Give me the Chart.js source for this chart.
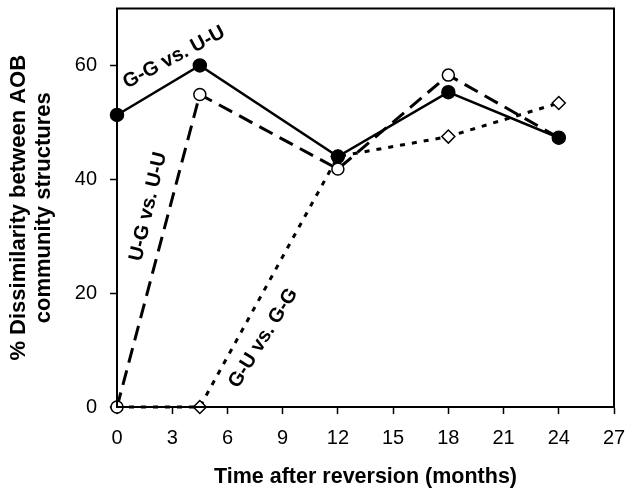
<!DOCTYPE html>
<html>
<head>
<meta charset="utf-8">
<script src="https://cdn.jsdelivr.net/npm/chart.js@4"></script>
<style>
  body { margin: 0; background: #fff; }
  canvas { display: block; }
</style>
</head>
<body>
<canvas id="chart" width="625" height="490"></canvas>
<script>
const months = [0, 4.5, 12, 18, 24];
const ggVsUu = [51.3, 60, 44, 55.3, 47.3];
const ugVsUu = [0, 54.9, 41.8, 58.3, 47.3];
const guVsGg = [0, 0, 44, 47.5, 53.4];

const xTicks = [0, 3, 6, 9, 12, 15, 18, 21, 24, 27];
const yTicks = [0, 20, 40, 60];

// line labels: text, anchor (months, %), angle in degrees
const lineLabels = [
    { text: "G-G vs. U-U", x: 3.1, y: 61.4, angle: -28 },
    { text: "U-G vs. U-U", x: 1.7, y: 35.2, angle: -77 },
    { text: "G-U vs. G-G", x: 7.95, y: 12.1, angle: -58 }
];

const font = "'Liberation Sans', Arial, sans-serif";

function toPoints(values) {
    return months.map((m, i) => ({ x: m, y: values[i] }));
}

const frame = {
    id: "frame",
    afterDatasetsDraw(chart) {
        const { ctx, chartArea: a, scales } = chart;
        ctx.save();
        ctx.strokeStyle = "#000";
        ctx.lineWidth = 2;
        ctx.strokeRect(a.left, a.top, a.right - a.left, a.bottom - a.top);

        ctx.font = "bold 20px " + font;
        ctx.fillStyle = "#000";
        ctx.textAlign = "center";
        ctx.textBaseline = "middle";
        lineLabels.forEach(l => {
            ctx.save();
            ctx.translate(scales.x.getPixelForValue(l.x), scales.y.getPixelForValue(l.y));
            ctx.rotate(l.angle * Math.PI / 180);
            ctx.fillText(l.text, 0, 0);
            ctx.restore();
        });
        ctx.restore();
    }
};

new Chart(document.getElementById("chart"), {
    type: "line",
    data: {
        datasets: [
            {
                label: "G-G vs. U-U",
                data: toPoints(ggVsUu),
                borderColor: "#000",
                borderWidth: 2.5,
                pointStyle: "circle",
                pointRadius: 6,
                pointBackgroundColor: "#000",
                pointBorderColor: "#000",
                order: 1
            },
            {
                label: "U-G vs. U-U",
                data: toPoints(ugVsUu),
                borderColor: "#000",
                borderWidth: 3,
                borderDash: [15, 8],
                pointStyle: "circle",
                pointRadius: 6,
                pointBorderWidth: 1.5,
                pointBackgroundColor: "#fff",
                pointBorderColor: "#000",
                order: 2
            },
            {
                label: "G-U vs. G-G",
                data: toPoints(guVsGg),
                borderColor: "#000",
                borderWidth: 3,
                borderDash: [5, 7],
                pointStyle: "rectRot",
                pointRadius: 6.5,
                pointBorderWidth: 1.5,
                pointBackgroundColor: "#fff",
                pointBorderColor: "#000",
                order: 3
            }
        ]
    },
    options: {
        responsive: false,
        animation: false,
        clip: false,
        layout: { padding: { top: 8, right: 11, left: 0, bottom: 0 } },
        plugins: { legend: { display: false }, tooltip: { enabled: false } },
        scales: {
            x: {
                type: "linear",
                min: 0,
                max: 27,
                afterBuildTicks: s => { s.ticks = xTicks.map(v => ({ value: v })); },
                afterFit: s => { s.height = 83; s.paddingLeft = 0; s.paddingRight = 0; },
                grid: { drawOnChartArea: false, tickLength: 7, tickWidth: 1.5, color: "#000" },
                border: { color: "#000", width: 2 },
                ticks: { color: "#000", padding: 12, font: { family: font, size: 20 } },
                title: {
                    display: true,
                    text: "Time after reversion (months)",
                    color: "#000",
                    padding: { top: 0, bottom: 0 },
                    font: { family: font, size: 21.5, weight: "bold" }
                }
            },
            y: {
                type: "linear",
                min: 0,
                max: 70,
                afterBuildTicks: s => { s.ticks = yTicks.map(v => ({ value: v })); },
                afterFit: s => { s.width = 117; s.paddingTop = 0; s.paddingBottom = 0; },
                grid: { drawOnChartArea: false, tickLength: 7, tickWidth: 1.5, color: "#000" },
                border: { color: "#000", width: 2 },
                ticks: { color: "#000", padding: 13, font: { family: font, size: 20 } },
                title: {
                    display: true,
                    text: ["% Dissimilarity between AOB", "community structures"],
                    color: "#000",
                    padding: { top: 6, bottom: 0 },
                    font: { family: font, size: 22, weight: "bold", lineHeight: 1.15 }
                }
            }
        }
    },
    plugins: [frame]
});
</script>
</body>
</html>
